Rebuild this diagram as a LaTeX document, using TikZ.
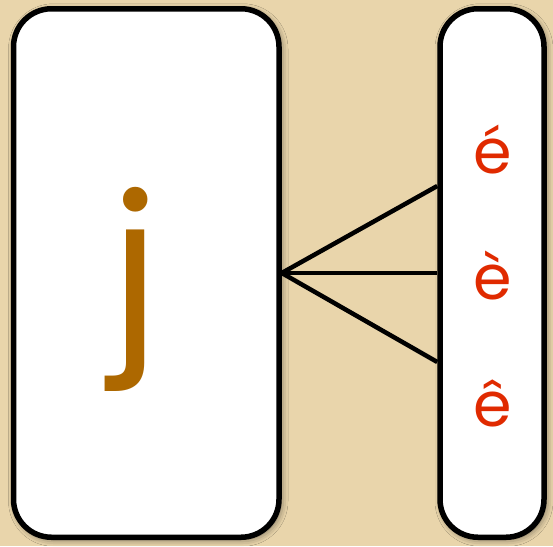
\documentclass[tikz,border=0pt]{standalone}
\usepackage{fontspec}
\setmainfont{Poppins}
\usetikzlibrary{shadows.blur}
\definecolor{parch}{RGB}{233,213,171}
\definecolor{jbrown}{RGB}{173,104,0}
\definecolor{ered}{RGB}{224,42,0}
\tikzset{
  panel/.style={draw=black, fill=white, line width=5.5pt, rounded corners=38pt, inner sep=0pt,
    blur shadow={shadow xshift=2pt, shadow yshift=-2pt, shadow blur radius=7pt, shadow opacity=55}},
  link/.style={draw=black, line width=4.5pt},
  bigletter/.style={text=jbrown, inner sep=0pt, font=\fontsize{200}{200}\selectfont},
  accletter/.style={text=ered, inner sep=0pt, anchor=base, font=\fontsize{62}{62}\selectfont},
}
\begin{document}
\begin{tikzpicture}[x=1pt,y=-1pt]
  \fill[parch] (0,0) rectangle (553,546);
  \useasboundingbox (0,0) rectangle (553,546);
  \node[panel, minimum width=265.5pt, minimum height=528.5pt] (L) at (146.25,273) {};
  \node[panel, minimum width=104pt, minimum height=528.5pt] (R) at (492,273) {};
  \node[bigletter] (j) at (135,289) {j};
  \node[accletter] (e1) at (493,173) {é};
  \node[accletter] (e2) at (493,299) {è};
  \node[accletter] (e3) at (493,426) {ê};
  \coordinate (p1) at ($(R.west)+(0,-87)$);
  \coordinate (p2) at (R.west);
  \coordinate (p3) at ($(R.west)+(0,89)$);
  \draw[link] (L.east) -- (p1);
  \draw[link] (L.east) -- (p2);
  \draw[link] (L.east) -- (p3);
\end{tikzpicture}
\end{document}
